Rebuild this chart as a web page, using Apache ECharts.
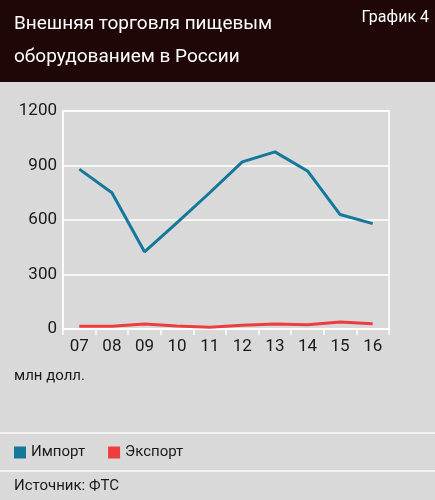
<!DOCTYPE html>
<html>
<head>
<meta charset="utf-8">
<script src="https://cdn.jsdelivr.net/npm/echarts@6/dist/echarts.min.js"></script>
<style>
html, body { margin: 0; padding: 0; background: #d9d9d9; }
#chart { width: 435px; height: 500px; }
</style>
</head>
<body>
<div id="chart"></div>
<script>
// годы
var years = ['07', '08', '09', '10', '11', '12', '13', '14', '15', '16'];
// млн долл.
var importVals = [880, 750, 425, 585, 750, 920, 975, 870, 630, 580];
var exportVals = [15, 15, 27, 17, 10, 20, 28, 24, 38, 29];
var yTicks = [0, 300, 600, 900, 1200];

var FONT = '"Roboto", sans-serif';
var TXT = '#1a1a1a';

var myChart = echarts.init(document.getElementById('chart'));

var option = {
	backgroundColor: '#d9d9d9',
	animation: false,
	textStyle: { fontFamily: FONT },
	title: {
		text: 'Внешняя торговля пищевым\nоборудованием в России',
		left: 9,
		top: 3,
		textStyle: {
			color: '#ffffff',
			fontFamily: FONT,
			fontWeight: 'normal',
			fontSize: 19,
			lineHeight: 33
		}
	},
	graphic: [
		{ type: 'rect', z: -1, shape: { x: 0, y: 0, width: 435, height: 82 }, style: { fill: '#1f0707' } },
		{ type: 'text', right: 6, top: 10, style: { text: 'График 4', fill: '#ffffff', font: '16px ' + FONT } },
		{ type: 'text', left: 14, top: 369, style: { text: 'млн долл.', fill: TXT, font: '15px ' + FONT } },
		{ type: 'rect', shape: { x: 0, y: 432, width: 435, height: 2 }, style: { fill: '#f2f2f2' } },
		{ type: 'rect', shape: { x: 0, y: 470, width: 435, height: 2 }, style: { fill: '#f2f2f2' } },
		{ type: 'text', left: 14, top: 479, style: { text: 'Источник: ФТС', fill: TXT, font: '15px ' + FONT } }
	],
	legend: {
		left: 9,
		top: 440,
		icon: 'rect',
		itemWidth: 12,
		itemHeight: 12,
		itemGap: 23,
		textStyle: { color: TXT, fontSize: 15, fontFamily: FONT },
		data: ['Импорт', 'Экспорт']
	},
	grid: {
		left: 63,
		right: 46,
		top: 111,
		bottom: 171,
		show: true,
		borderColor: '#ffffff',
		borderWidth: 1.5
	},
	xAxis: {
		type: 'category',
		data: years,
		boundaryGap: true,
		axisLine: { lineStyle: { color: '#ffffff', width: 1.5 } },
		axisTick: { show: true, length: 6, lineStyle: { color: '#ffffff', width: 1.5 } },
		axisLabel: { color: TXT, fontSize: 17, margin: 9, fontFamily: FONT }
	},
	yAxis: {
		type: 'value',
		min: yTicks[0],
		max: yTicks[yTicks.length - 1],
		interval: 300,
		axisLine: { show: true, lineStyle: { color: '#ffffff', width: 1.5 } },
		axisTick: { show: false },
		splitLine: { lineStyle: { color: '#ffffff', width: 1.5 } },
		axisLabel: {
			color: TXT, fontSize: 17, margin: 6, fontFamily: FONT,
			formatter: function (v) { return String(v); }
		}
	},
	series: [
		{
			name: 'Импорт',
			type: 'line',
			data: importVals,
			symbol: 'none',
			color: '#15789b',
			lineStyle: { width: 3, color: '#15789b' }
		},
		{
			name: 'Экспорт',
			type: 'line',
			data: exportVals,
			symbol: 'none',
			color: '#ee3d3d',
			lineStyle: { width: 3, color: '#ee3d3d' }
		}
	]
};

myChart.setOption(option);
</script>
</body>
</html>
